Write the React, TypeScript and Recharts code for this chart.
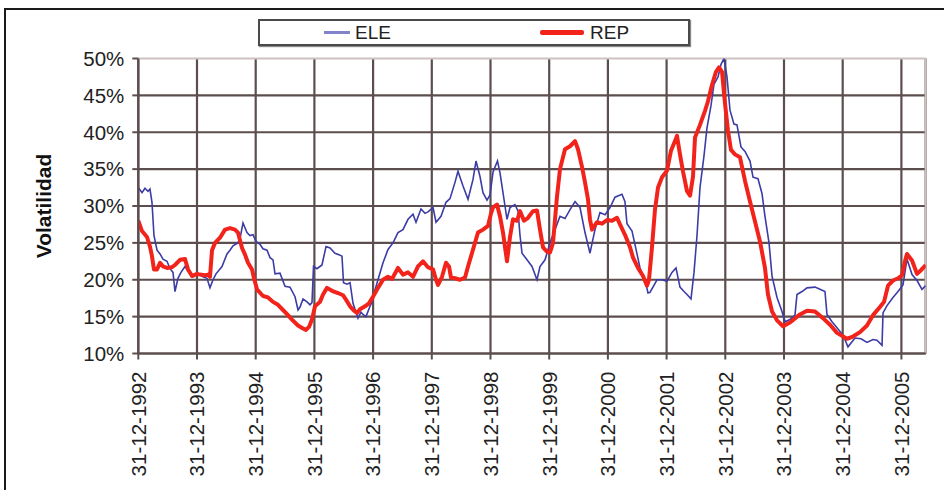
import React from 'react';
import { LineChart, Line, XAxis, YAxis, CartesianGrid, ReferenceLine, Legend } from 'recharts';

const xTicks = [1993, 1994, 1995, 1996, 1997, 1998, 1999, 2000, 2001, 2002, 2003, 2004, 2005, 2006];
const xTickLabels = [
  '31-12-1992', '31-12-1993', '31-12-1994', '31-12-1995', '31-12-1996', '31-12-1997', '31-12-1998',
  '31-12-1999', '31-12-2000', '31-12-2001', '31-12-2002', '31-12-2003', '31-12-2004', '31-12-2005',
];
const yTicks = [10, 15, 20, 25, 30, 35, 40, 45, 50];
const gridYValues = [10, 15, 20, 25, 30, 35, 40, 45];
const xStart = 1993;
const xEnd = 2006.414;

// [decimal year, volatility %]
const ELE: [number, number][] = [
  [1993.000, 32.5], [1993.063, 31.8], [1993.114, 32.4], [1993.165, 32.0], [1993.199, 32.3], [1993.233, 30.5],
  [1993.267, 26.0], [1993.319, 24.0], [1993.370, 23.5], [1993.421, 22.8], [1993.489, 22.5], [1993.540, 21.5],
  [1993.591, 21.0], [1993.625, 18.4], [1993.676, 20.2], [1993.727, 21.0], [1993.796, 21.8], [1993.847, 21.2],
  [1993.932, 20.6], [1994.017, 20.8], [1994.102, 20.4], [1994.170, 20.2], [1994.221, 18.9], [1994.273, 20.0],
  [1994.324, 20.8], [1994.426, 21.8], [1994.511, 23.5], [1994.562, 24.0], [1994.613, 24.6], [1994.698, 25.0],
  [1994.733, 25.6], [1994.784, 27.7], [1994.852, 26.4], [1994.903, 26.0], [1994.954, 26.1], [1995.005, 25.2],
  [1995.073, 24.8], [1995.124, 24.2], [1995.193, 24.0], [1995.244, 23.0], [1995.295, 22.7], [1995.329, 20.8],
  [1995.414, 20.9], [1995.499, 19.1], [1995.584, 19.0], [1995.670, 17.7], [1995.721, 15.9], [1995.755, 16.3],
  [1995.806, 17.4], [1995.874, 17.0], [1995.925, 16.6], [1995.959, 16.9], [1995.985, 21.8], [1996.044, 21.5],
  [1996.129, 22.0], [1996.198, 24.5], [1996.266, 24.3], [1996.351, 23.6], [1996.419, 23.4], [1996.470, 23.2],
  [1996.496, 19.6], [1996.555, 19.4], [1996.607, 19.6], [1996.658, 16.8], [1996.743, 14.8], [1996.794, 15.6],
  [1996.828, 15.3], [1996.879, 15.0], [1996.947, 16.4], [1996.998, 17.3], [1997.032, 18.6], [1997.083, 20.0],
  [1997.169, 22.3], [1997.254, 24.1], [1997.339, 25.0], [1997.424, 26.4], [1997.509, 26.8], [1997.595, 28.2],
  [1997.680, 28.9], [1997.731, 27.8], [1997.816, 29.6], [1997.884, 29.0], [1997.935, 29.2], [1998.021, 29.8],
  [1998.072, 27.8], [1998.157, 28.6], [1998.242, 30.5], [1998.310, 31.0], [1998.395, 33.2], [1998.446, 34.7],
  [1998.532, 32.7], [1998.617, 30.9], [1998.702, 33.6], [1998.753, 36.1], [1998.821, 34.0], [1998.872, 31.8],
  [1998.940, 30.8], [1998.992, 31.5], [1999.043, 34.6], [1999.119, 36.1], [1999.162, 34.5], [1999.196, 32.7],
  [1999.247, 30.0], [1999.281, 28.2], [1999.332, 29.8], [1999.417, 30.2], [1999.469, 29.3], [1999.503, 26.0],
  [1999.537, 23.6], [1999.622, 22.7], [1999.707, 21.8], [1999.792, 20.0], [1999.843, 21.8], [1999.929, 22.7],
  [2000.014, 25.0], [2000.099, 26.8], [2000.184, 28.6], [2000.269, 28.3], [2000.355, 29.5], [2000.440, 30.6],
  [2000.525, 29.8], [2000.610, 26.4], [2000.695, 23.6], [2000.780, 26.8], [2000.865, 29.1], [2000.951, 28.8],
  [2001.036, 29.8], [2001.121, 31.2], [2001.240, 31.6], [2001.291, 30.6], [2001.325, 27.6], [2001.411, 26.6],
  [2001.496, 23.5], [2001.547, 21.6], [2001.632, 20.0], [2001.683, 18.2], [2001.717, 18.3], [2001.837, 20.0],
  [2001.922, 20.0], [2002.007, 19.8], [2002.092, 21.0], [2002.160, 21.6], [2002.228, 19.0], [2002.297, 18.4],
  [2002.348, 18.0], [2002.416, 17.4], [2002.467, 21.0], [2002.518, 26.0], [2002.569, 32.5], [2002.637, 36.8],
  [2002.688, 40.6], [2002.756, 43.6], [2002.807, 46.5], [2002.876, 47.5], [2002.927, 49.2], [2002.978, 50.0],
  [2003.029, 47.5], [2003.080, 43.0], [2003.148, 41.1], [2003.199, 41.0], [2003.267, 38.0], [2003.336, 37.4],
  [2003.421, 36.1], [2003.472, 33.9], [2003.557, 33.7], [2003.625, 31.7], [2003.676, 28.6], [2003.745, 25.0],
  [2003.796, 20.5], [2003.881, 17.6], [2003.966, 15.7], [2004.017, 14.3], [2004.102, 14.6], [2004.187, 15.2],
  [2004.221, 18.0], [2004.307, 18.4], [2004.392, 18.9], [2004.528, 19.0], [2004.613, 18.7], [2004.698, 18.4],
  [2004.732, 15.3], [2004.818, 14.3], [2004.903, 13.5], [2005.005, 12.5], [2005.090, 10.9], [2005.209, 12.1],
  [2005.312, 12.0], [2005.414, 11.5], [2005.516, 11.9], [2005.584, 11.8], [2005.670, 11.1], [2005.687, 15.5],
  [2005.755, 16.5], [2005.857, 17.6], [2005.942, 18.4], [2006.027, 19.3], [2006.095, 22.8], [2006.181, 20.7],
  [2006.266, 19.9], [2006.351, 18.7], [2006.414, 19.2],
];

const REP: [number, number][] = [
  [1993.000, 28.0], [1993.063, 26.6], [1993.148, 25.8], [1993.199, 24.5], [1993.233, 23.2], [1993.267, 21.4],
  [1993.319, 21.4], [1993.370, 22.3], [1993.421, 21.8], [1993.489, 21.6], [1993.574, 21.7], [1993.625, 22.0],
  [1993.710, 22.7], [1993.796, 22.8], [1993.847, 21.4], [1993.915, 20.5], [1994.000, 20.8], [1994.051, 20.7],
  [1994.136, 20.6], [1994.187, 20.7], [1994.221, 20.4], [1994.256, 24.0], [1994.307, 25.0], [1994.392, 25.7],
  [1994.477, 26.8], [1994.562, 27.0], [1994.647, 26.8], [1994.698, 26.4], [1994.767, 24.3], [1994.818, 23.4],
  [1994.869, 22.3], [1994.937, 21.4], [1994.971, 20.2], [1995.022, 18.7], [1995.124, 17.8], [1995.210, 17.6],
  [1995.295, 17.0], [1995.380, 16.6], [1995.465, 15.9], [1995.550, 15.2], [1995.618, 14.6], [1995.721, 13.8],
  [1995.806, 13.4], [1995.857, 13.2], [1995.908, 13.6], [1995.959, 14.6], [1996.010, 16.4], [1996.095, 17.0],
  [1996.147, 18.0], [1996.215, 18.9], [1996.300, 18.5], [1996.402, 18.2], [1996.487, 17.9], [1996.538, 17.3],
  [1996.607, 16.4], [1996.675, 15.8], [1996.726, 15.5], [1996.777, 16.0], [1996.862, 16.4], [1996.930, 16.8],
  [1996.998, 17.7], [1997.083, 18.9], [1997.169, 20.0], [1997.254, 20.4], [1997.322, 20.1], [1997.424, 21.6],
  [1997.509, 20.7], [1997.595, 21.0], [1997.680, 20.4], [1997.765, 21.8], [1997.850, 22.5], [1997.935, 21.7],
  [1998.021, 21.4], [1998.072, 20.0], [1998.106, 19.3], [1998.174, 20.4], [1998.242, 22.3], [1998.293, 21.8],
  [1998.327, 20.3], [1998.395, 20.2], [1998.481, 20.0], [1998.566, 20.3], [1998.617, 21.8], [1998.702, 24.1],
  [1998.787, 26.4], [1998.872, 26.8], [1998.957, 27.3], [1999.009, 29.0], [1999.043, 29.8], [1999.111, 30.2],
  [1999.162, 28.6], [1999.213, 26.4], [1999.281, 22.5], [1999.332, 25.8], [1999.383, 28.2], [1999.452, 28.0],
  [1999.503, 29.3], [1999.571, 28.0], [1999.639, 28.4], [1999.724, 29.3], [1999.792, 29.4], [1999.843, 26.8],
  [1999.895, 24.4], [1999.963, 23.8], [2000.014, 23.7], [2000.065, 25.0], [2000.133, 31.3], [2000.184, 35.0],
  [2000.269, 37.7], [2000.355, 38.1], [2000.440, 38.8], [2000.491, 37.7], [2000.559, 35.3], [2000.610, 33.2],
  [2000.661, 30.9], [2000.695, 28.2], [2000.729, 26.8], [2000.814, 27.8], [2000.900, 27.6], [2000.985, 28.1],
  [2001.070, 28.0], [2001.155, 28.4], [2001.206, 27.5], [2001.291, 26.1], [2001.377, 24.4], [2001.428, 23.0],
  [2001.513, 21.6], [2001.598, 20.5], [2001.666, 19.2], [2001.700, 20.0], [2001.751, 24.4], [2001.802, 29.5],
  [2001.854, 32.5], [2001.922, 33.9], [2002.007, 34.8], [2002.075, 37.5], [2002.143, 38.8], [2002.177, 39.5],
  [2002.228, 37.0], [2002.279, 34.7], [2002.348, 32.0], [2002.399, 31.4], [2002.450, 34.0], [2002.484, 39.3],
  [2002.569, 41.0], [2002.654, 42.9], [2002.705, 44.2], [2002.773, 46.4], [2002.841, 48.2], [2002.893, 48.8],
  [2002.944, 48.2], [2002.995, 43.9], [2003.046, 40.2], [2003.097, 37.6], [2003.165, 37.0], [2003.250, 36.6],
  [2003.336, 33.4], [2003.421, 30.6], [2003.506, 27.9], [2003.591, 25.2], [2003.676, 21.6], [2003.727, 18.0],
  [2003.796, 15.7], [2003.881, 14.5], [2003.983, 13.7], [2004.102, 14.2], [2004.272, 15.3], [2004.392, 15.8],
  [2004.528, 15.7], [2004.664, 14.8], [2004.784, 13.9], [2004.903, 12.8], [2005.073, 12.0], [2005.175, 12.3],
  [2005.295, 12.9], [2005.414, 13.8], [2005.516, 15.2], [2005.635, 16.3], [2005.704, 17.0], [2005.772, 19.2],
  [2005.857, 19.9], [2005.942, 20.2], [2006.010, 20.6], [2006.061, 22.5], [2006.095, 23.5], [2006.181, 22.6],
  [2006.266, 20.8], [2006.334, 21.3], [2006.414, 22.0],
];

const eleData = ELE.map(([date, v]) => ({ date, ELE: v }));
const repData = REP.map(([date, v]) => ({ date, REP: v }));

const FONT = '"Liberation Sans", Arial, Helvetica, sans-serif';
const GRID = '#5c4e4e';
const LIGHT = '#cdc2c2';
const ELE_COLOR = '#3c3ca6';
const REP_COLOR = '#f2231b';

function XTick(props: any) {
  const { x, y, payload } = props;
  const label = xTickLabels[xTicks.indexOf(payload.value)];
  return (
    <text
      x={x}
      y={y}
      transform={`rotate(-90, ${x}, ${y})`}
      textAnchor="end"
      dy="0.36em"
      fontSize={20.5}
      fill="#222"
      fontFamily={FONT}
    >
      {label}
    </text>
  );
}

function YTitle(props: any) {
  const vb = props.viewBox || { x: 0, y: 58.5, width: 138.3, height: 295 };
  const cx = vb.x + 43;
  const cy = vb.y + vb.height / 2;
  return (
    <text
      x={cx}
      y={cy}
      transform={`rotate(-90, ${cx}, ${cy})`}
      textAnchor="middle"
      dy="0.36em"
      fontSize={21}
      fontWeight="bold"
      fill="#111"
      fontFamily={FONT}
    >
      Volatilidad
    </text>
  );
}

function LegendBox() {
  return (
    <div
      style={{
        position: 'relative',
        width: 432,
        height: 27,
        boxSizing: 'border-box',
        border: '2px solid #4a4a4a',
        boxShadow: '1px 1px 1px #888',
        background: '#fff',
        fontFamily: FONT,
        fontSize: 19,
        color: '#222',
      }}
    >
      <div style={{ position: 'absolute', left: 64, top: 10, width: 26, height: 3, background: '#8383c9' }} />
      <div style={{ position: 'absolute', left: 95, top: 0, lineHeight: '23px' }}>ELE</div>
      <div style={{ position: 'absolute', left: 280, top: 9, width: 44, height: 5, background: REP_COLOR, borderRadius: 2 }} />
      <div style={{ position: 'absolute', left: 330, top: 0, lineHeight: '23px' }}>REP</div>
    </div>
  );
}

export default function App() {
  return (
    <div style={{ position: 'absolute', left: 0, top: 0, width: 944, height: 490, background: '#fff', overflow: 'hidden' }}>
      <div
        style={{
          position: 'absolute',
          left: 4,
          top: 8,
          width: 980,
          height: 520,
          border: '2px solid #1a1a1a',
          boxSizing: 'border-box',
        }}
      />
      <div style={{ position: 'absolute', left: 0, top: 0 }}>
        <LineChart width={944} height={490} margin={{ top: 58.5, right: 18.3, bottom: 0, left: 0 }}>
          <CartesianGrid stroke={GRID} strokeWidth={2.2} horizontalValues={gridYValues} />
          <ReferenceLine y={50} stroke={LIGHT} strokeWidth={2} />
          <ReferenceLine x={xEnd} stroke={LIGHT} strokeWidth={2} />
          <XAxis
            type="number"
            dataKey="date"
            domain={[xStart, xEnd]}
            ticks={xTicks}
            interval={0}
            allowDataOverflow
            height={136.5}
            tickSize={6}
            tickMargin={12}
            tick={<XTick />}
            axisLine={{ stroke: GRID, strokeWidth: 2.2 }}
            tickLine={{ stroke: GRID, strokeWidth: 2 }}
          />
          <YAxis
            type="number"
            domain={[10, 50]}
            ticks={yTicks}
            interval={0}
            allowDataOverflow
            width={138.3}
            tickSize={6}
            tickMargin={8}
            tickFormatter={(v: number) => `${v}%`}
            tick={{ fontSize: 20.5, fill: '#222', fontFamily: FONT }}
            axisLine={{ stroke: GRID, strokeWidth: 2.2 }}
            tickLine={{ stroke: GRID, strokeWidth: 2 }}
            label={<YTitle />}
          />
          <Legend
            layout="horizontal"
            verticalAlign="middle"
            align="center"
            content={<LegendBox />}
            wrapperStyle={{ top: 19, left: 258, width: 432, height: 27, bottom: 'auto', right: 'auto' }}
          />
          <Line
            data={eleData}
            dataKey="ELE"
            name="ELE"
            type="linear"
            stroke={ELE_COLOR}
            strokeWidth={1.6}
            dot={false}
            activeDot={false}
            isAnimationActive={false}
          />
          <Line
            data={repData}
            dataKey="REP"
            name="REP"
            type="linear"
            stroke={REP_COLOR}
            strokeWidth={4}
            strokeLinejoin="round"
            dot={false}
            activeDot={false}
            isAnimationActive={false}
          />
        </LineChart>
      </div>
    </div>
  );
}
